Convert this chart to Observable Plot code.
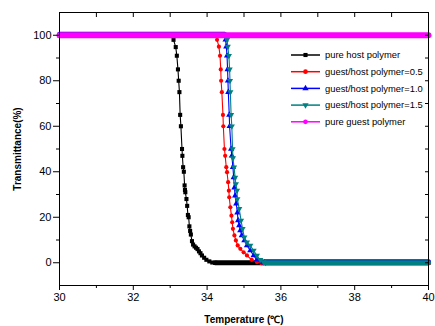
<!DOCTYPE html>
<html>
<head>
<meta charset="utf-8">
<script src="https://cdn.jsdelivr.net/npm/d3@7"></script>
<script src="https://cdn.jsdelivr.net/npm/@observablehq/plot@0.6"></script>
<style>
  html, body { margin: 0; padding: 0; background: #fff; }
  #chart svg g[aria-label$="axis label"] { font-weight: bold; font-size: 10px; }
</style>
</head>
<body>
<div id="chart"></div>
<script>
// ---- data: [temperature (°C), transmittance (%)] ----
const hostPolymer = [
  [30,100],[33.05,100],[33.09,98],[33.15,94.8],[33.18,91],[33.21,85],[33.23,80],[33.25,75],
  [33.27,65],[33.29,60],[33.32,50],[33.33,47],[33.35,42],[33.37,40],[33.39,34],[33.40,32],
  [33.41,31],[33.44,28],[33.46,25],[33.48,21],[33.50,20],[33.52,16],[33.54,14],[33.56,12.4],
  [33.59,9.5],[33.62,8],[33.66,7.2],[33.70,6.6],[33.74,6],[33.78,5],[33.82,4.2],[33.86,3.2],
  [33.92,2.2],[33.98,1.3],[34.06,0.6],[34.14,0.1],[34.22,0],[40,0]
];
const ratio05 = [
  [30,100],[34.24,100],[34.27,98],[34.32,95],[34.35,91],[34.37,85],[34.38,80],[34.40,75],
  [34.43,65],[34.44,60],[34.47,50],[34.49,47],[34.52,42],[34.54,39.8],[34.57,35.4],[34.59,31.7],
  [34.60,28.8],[34.63,24.4],[34.66,20.7],[34.68,17.8],[34.70,14.9],[34.74,12],[34.78,9.8],
  [34.83,7.6],[34.90,6.1],[34.99,4.6],[35.08,3.2],[35.21,1.3],[35.35,0.3],[35.48,0],[40,0]
];
const ratio10 = [
  [30,100],[34.47,100],[34.50,98],[34.52,95],[34.54,91],[34.555,85],[34.565,80],[34.575,75],
  [34.60,65],[34.61,60],[34.65,50],[34.67,47],[34.70,42],[34.72,37.5],[34.74,33],[34.76,29.5],
  [34.79,26],[34.82,22],[34.84,18.6],[34.87,16.4],[34.90,14.2],[34.94,12],[35.01,9.8],
  [35.08,7.6],[35.17,5.4],[35.26,3.2],[35.35,1.3],[35.49,0.3],[35.55,0],[40,0]
];
const ratio15 = [
  [30,100],[34.51,100],[34.54,98],[34.56,95],[34.59,91],[34.61,85],[34.62,80],[34.63,75],
  [34.65,65],[34.67,60],[34.69,50],[34.70,46],[34.73,42],[34.76,37.5],[34.78,34.6],[34.81,31.7],
  [34.82,28],[34.87,23.7],[34.92,18.6],[34.96,14.9],[35.01,11.2],[35.08,9],[35.17,7.6],
  [35.26,5.4],[35.35,3.2],[35.44,1.3],[35.53,0.3],[35.58,0],[40,0]
];
const guestPolymer = [[30,100],[40,100]];

const seriesNames = ["pure host polymer","guest/host polymer=0.5","guest/host polymer=1.0","guest/host polymer=1.5","pure guest polymer"];
const seriesColors = ["#000000","#ff0000","#0000ff","#008080","#ff00ff"];
const seriesSymbols = ["square","circle","triangle","triangle","circle"];
const seriesRotate = [0,0,0,180,0];
const seriesData = [hostPolymer, ratio05, ratio10, ratio15, guestPolymer];

const xMajor = [30,32,34,36,38,40];
const xMinor = [31,33,35,37,39];
const yMajor = [0,20,40,60,80,100];
const yMinor = [10,30,50,70,90];

// ---- marks ----
const X = d => d[0], Y = d => d[1];
const isFlat = d => d[1] === 0 || d[1] === 100;
const seriesMarks = [];
seriesData.forEach((data, i) => {
  const c = seriesColors[i];
  if (i < 4) {
    seriesMarks.push(Plot.line(data, {x: X, y: Y, stroke: c, strokeWidth: 1.1}));
    seriesMarks.push(Plot.line(data.filter(isFlat), {x: X, y: Y, z: Y, stroke: c, strokeWidth: 5, dy: i === 2 ? -1 : 0}));
    seriesMarks.push(Plot.dot(data.filter(d => d[0] > 30 && d[0] < 40), {
      x: X, y: Y, symbol: seriesSymbols[i], r: i === 1 ? 2.1 : 2.3, fill: c, stroke: "none", rotate: seriesRotate[i]
    }));
  } else {
    seriesMarks.push(Plot.line(data, {x: X, y: Y, stroke: c, strokeWidth: 6}));
  }
});

const noText = () => "";
const chart = Plot.plot({
  width: 435,
  height: 326,
  marginLeft: 59,
  marginRight: 7,
  marginTop: 12,
  marginBottom: 41,
  style: {fontFamily: "'Liberation Sans', Arial, sans-serif", fontSize: "11px", color: "#000", background: "#fff"},
  x: {domain: [30, 40]},
  y: {domain: [-10, 110]},
  marks: [
    ...seriesMarks,
    Plot.frame({stroke: "#000", strokeWidth: 1}),
    Plot.axisX({ticks: xMajor, tickSize: 5, tickPadding: 3, label: "Temperature (℃)", labelAnchor: "center", labelOffset: 37, labelArrow: "none"}),
    Plot.axisX({ticks: xMinor, tickSize: 3, tickFormat: noText, label: null}),
    Plot.axisX({anchor: "top", ticks: xMajor.concat(xMinor), tickSize: -4, tickFormat: noText, label: null}),
    Plot.axisY({ticks: yMajor, tickSize: 6, tickPadding: 2, label: "Transmittance(%)", labelAnchor: "center", labelOffset: 46, labelArrow: "none"}),
    Plot.axisY({ticks: yMinor, tickSize: 3, tickFormat: noText, label: null}),
    Plot.axisY({anchor: "right", ticks: yMajor.concat(yMinor), tickSize: -4, tickFormat: noText, label: null})
  ]
});
document.getElementById("chart").appendChild(chart);

// ---- legend ----
const svgSel = d3.select(chart.tagName.toLowerCase() === "svg" ? chart : chart.querySelector("svg"));
const lg = svgSel.append("g")
  .attr("font-family", "'Liberation Sans', Arial, sans-serif")
  .attr("font-size", 9.4)
  .attr("text-anchor", "start");
const d3Sym = {square: d3.symbolSquare, circle: d3.symbolCircle, triangle: d3.symbolTriangle};
seriesNames.forEach((name, i) => {
  const y = 55 + i * 16.7;
  lg.append("line").attr("x1", 291).attr("x2", 320).attr("y1", y).attr("y2", y)
    .attr("stroke", seriesColors[i]).attr("stroke-width", 1.5);
  lg.append("path").attr("d", d3.symbol(d3Sym[seriesSymbols[i]], 17)())
    .attr("transform", `translate(305.5,${y}) rotate(${seriesRotate[i]})`)
    .attr("fill", seriesColors[i]);
  lg.append("text").attr("x", 325).attr("y", y).attr("dy", "0.35em")
    .attr("text-anchor", "start").attr("fill", "#000").text(name);
});
</script>
</body>
</html>
